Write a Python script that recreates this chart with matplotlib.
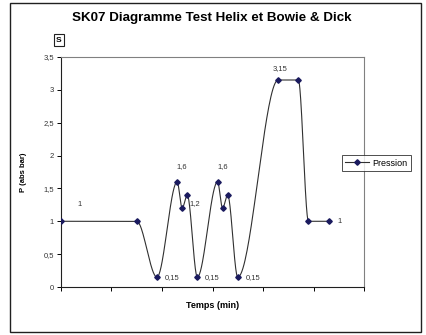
import numpy as np
import matplotlib
matplotlib.use("Agg")
import matplotlib.pyplot as plt
from matplotlib.patches import Rectangle

plt.rcParams['font.family'] = ['Liberation Sans', 'DejaVu Sans']

# cycle readings
temps = [0, 15, 19, 23, 24, 25, 27, 31, 32, 33, 35, 43, 47, 49, 53]
pression = [1, 1, 0.15, 1.6, 1.2, 1.4, 0.15, 1.6, 1.2, 1.4, 0.15, 3.15, 3.15, 1, 1]
# (point index, text, offset in pixels)
labels = [(0, "1", (19, 17)), (2, "0,15", (15, 0)), (3, "1,6", (5, 15)),
          (4, "1,2", (13, 5)), (6, "0,15", (15, 0)), (7, "1,6", (5, 15)),
          (10, "0,15", (15, 0)), (11, "3,15", (2, 11)), (14, "1", (11, 0))]
yticks = [0, 0.5, 1, 1.5, 2, 2.5, 3, 3.5]
xticks = [0, 10, 20, 30, 40, 50, 60]


def smooth(x, y, n=40):
    # monotone cubic hermite: flat runs stay flat, no overshoot at the peaks
    x = np.asarray(x, float)
    y = np.asarray(y, float)
    h = np.diff(x)
    d = np.diff(y) / h
    m = np.zeros_like(y)
    m[0], m[-1] = d[0], d[-1]
    for i in range(1, len(y) - 1):
        if d[i - 1] * d[i] > 0:
            w1 = 2 * h[i] + h[i - 1]
            w2 = h[i] + 2 * h[i - 1]
            m[i] = (w1 + w2) / (w1 / d[i - 1] + w2 / d[i])
    xs, ys = [x[0]], [y[0]]
    for i in range(len(x) - 1):
        t = np.linspace(0, 1, n)[1:]
        h00 = 2 * t ** 3 - 3 * t ** 2 + 1
        h10 = t ** 3 - 2 * t ** 2 + t
        h01 = -2 * t ** 3 + 3 * t ** 2
        h11 = t ** 3 - t ** 2
        xs.extend(x[i] + t * h[i])
        ys.extend(h00 * y[i] + h10 * h[i] * m[i] + h01 * y[i + 1]
                  + h11 * h[i] * m[i + 1])
    return np.array(xs), np.array(ys)


fig = plt.figure(figsize=(4.27, 3.35), dpi=100)
fig.patches.append(Rectangle((10 / 427, 1 - 332 / 335), 411 / 427, 329 / 335,
                             transform=fig.transFigure, fill=False,
                             edgecolor="#202020", linewidth=1.0))

ax = fig.add_axes([61 / 427, 1 - 287 / 335, 303 / 427, 230 / 335])
sx, sy = smooth(temps, pression)
ax.plot(sx, sy, color="#303030", linewidth=0.8, zorder=2)
ax.plot(temps, pression, linestyle="none", marker="D", markersize=2.8,
        color="#1a1a5e", zorder=3)
line_leg, = ax.plot([], [], color="#303030", linewidth=0.8, marker="D",
                    markersize=2.8, markerfacecolor="#1a1a5e",
                    markeredgecolor="#1a1a5e")

for i, txt, (dx, dy) in labels:
    ax.annotate(txt, (temps[i], pression[i]), xytext=(dx, dy),
                textcoords="offset pixels", ha="center", va="center",
                fontsize=5.5, color="#333333")

ax.set_xlim(0, 60)
ax.set_ylim(0, 3.5)
ax.set_xticks(xticks)
ax.set_xticklabels([])
ax.set_yticks(yticks)
ax.set_yticklabels([f"{v:g}".replace(".", ",") for v in yticks])
ax.tick_params(direction="out", length=3, width=0.7, labelsize=5.5,
               labelcolor="#333333", pad=2)
for s in ax.spines.values():
    s.set_linewidth(0.8)
ax.spines["top"].set_color("#808080")
ax.spines["right"].set_color("#808080")
ax.spines["left"].set_color("#202020")
ax.spines["bottom"].set_color("#202020")

ax.set_xlabel("Temps (min)", fontsize=6.5, fontweight="bold", labelpad=5)
ax.set_ylabel("P (abs bar)", fontsize=5.5, fontweight="bold", labelpad=12)

fig.text(212 / 427, 1 - 18 / 335, "SK07 Diagramme Test Helix et Bowie & Dick",
         ha="center", va="center", fontsize=9.6, fontweight="bold")
fig.text(59 / 427, 1 - 40 / 335, "S", ha="center", va="center", fontsize=6,
         fontweight="bold",
         bbox=dict(boxstyle="square,pad=0.3", facecolor="white",
                   edgecolor="#202020", linewidth=0.8))

leg = fig.legend(handles=[line_leg], labels=["Pression"], loc="center left",
                 bbox_to_anchor=(342 / 427, 1 - 163 / 335), fontsize=6.5,
                 frameon=True, fancybox=False, edgecolor="#202020",
                 handlelength=2.6, handletextpad=0.4, borderpad=0.35,
                 borderaxespad=0)
leg.get_frame().set_linewidth(0.7)

fig.savefig("out.png", dpi=100)
